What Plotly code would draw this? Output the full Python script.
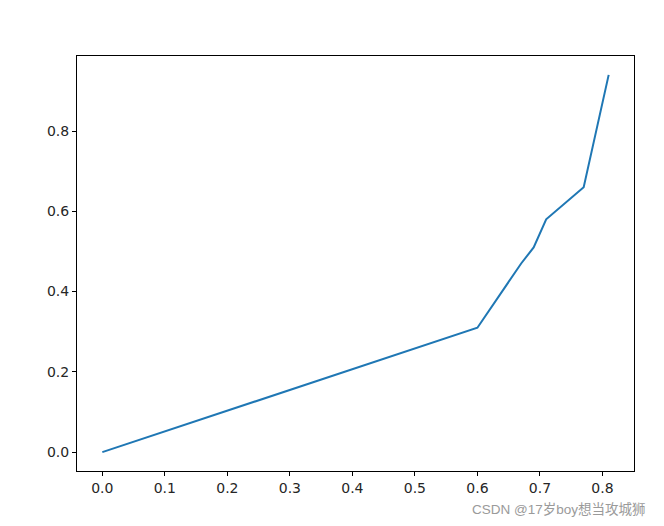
import plotly.graph_objects as go

fpr = [0, 0.6, 0.67, 0.69, 0.71, 0.77, 0.81]
tpr = [0, 0.31, 0.47, 0.51, 0.58, 0.66, 0.94]
x_ticks = [0.0, 0.1, 0.2, 0.3, 0.4, 0.5, 0.6, 0.7, 0.8]
y_ticks = [0.0, 0.2, 0.4, 0.6, 0.8]
watermark = "CSDN @17岁boy想当攻城狮"

fig = go.Figure()
fig.add_trace(go.Scatter(x=fpr, y=tpr, mode="lines",
                         line=dict(color="#1f77b4", width=2)))

axis_common = dict(showgrid=False, zeroline=False, showline=True, mirror=True,
                   linecolor="black", linewidth=1, ticks="outside", ticklen=4,
                   tickwidth=1, tickcolor="black",
                   tickfont=dict(family="DejaVu Sans", size=14, color="#262626"))

fig.update_xaxes(range=[-0.0405, 0.8505], tickvals=x_ticks,
                 ticktext=[f"{v:.1f}" for v in x_ticks], **axis_common)
fig.update_yaxes(range=[-0.047, 0.987], tickvals=y_ticks,
                 ticktext=[f"{v:.1f}" for v in y_ticks], **axis_common)

fig.add_annotation(text=watermark, xref="paper", yref="paper",
                   x=1.025, y=-0.092, xanchor="right", yanchor="middle",
                   showarrow=False,
                   font=dict(family="Liberation Sans, Noto Sans CJK SC", size=13.5, color="#9a9a9a"))

fig.update_layout(width=664, height=526, showlegend=False,
                  margin=dict(l=69, r=38, t=48, b=63),
                  plot_bgcolor="white", paper_bgcolor="white")

fig.write_html("out.html")
